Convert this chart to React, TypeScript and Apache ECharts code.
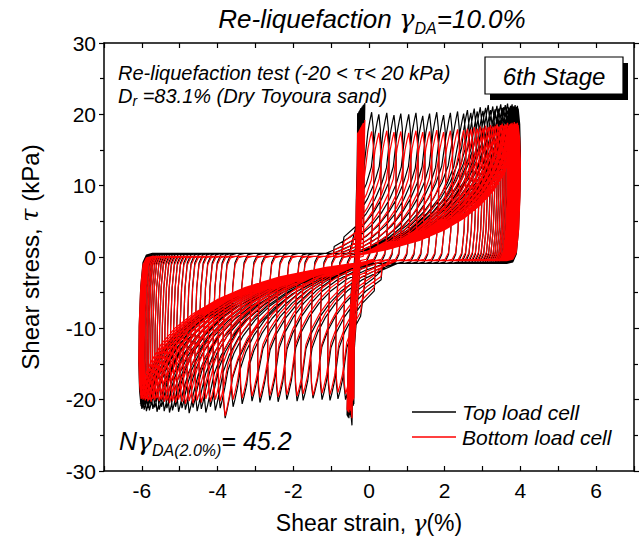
import React, { useEffect, useRef } from "react";
import * as echarts from "echarts";

// ---------- data ----------
const strainLabels = [-6, -4, -2, 0, 2, 4, 6];
const stressTicks = [-30, -20, -10, 0, 10, 20, 30];

// pre-liquefaction small loops: strain at each peak / trough, and the stresses there
const preStart = -0.35;
const preRight = [-0.30, -0.27, -0.29, -0.25, -0.27, -0.24, -0.26, -0.22, -0.25, -0.21, -0.24, -0.20, -0.23, -0.19, -0.22, -0.18, -0.21, -0.17, -0.20, -0.16, -0.19, -0.15, -0.18, -0.14, -0.17, -0.13, -0.16, -0.12, -0.15, -0.11];
const preLeft = [-0.40, -0.43, -0.41, -0.45, -0.42, -0.47, -0.44, -0.49, -0.46, -0.51, -0.47, -0.53, -0.49, -0.55, -0.50, -0.56, -0.51, -0.57, -0.52, -0.58, -0.53, -0.57, -0.54, -0.56, -0.52, -0.55, -0.50, -0.53, -0.48, -0.45];
const prePeakTop = [20.1, 20.4, 20.2, 20.5, 20.3, 20.6, 20.4, 20.7, 20.5, 20.8, 20.6, 20.9, 20.7, 21.0, 20.8, 21.0, 20.9, 21.1, 20.9, 21.2, 21.0, 21.2, 21.1, 21.3, 21.1, 21.4, 21.2, 21.4, 21.3, 21.6];
const preTroughTop = [-20.6, -20.9, -20.7, -21.1, -20.9, -21.3, -21.0, -21.4, -21.2, -21.6, -21.3, -21.7, -21.4, -21.8, -21.5, -22.0, -21.6, -22.1, -21.8, -22.2, -21.9, -22.3, -22.0, -22.4, -22.1, -22.5, -22.2, -22.6, -22.4, -23.6];
const prePeakBottom = [17.4, 17.6, 17.5, 17.7, 17.6, 17.8, 17.7, 17.9, 17.8, 18.0, 17.9, 18.1, 18.0, 18.2, 18.1, 18.3, 18.2, 18.4, 18.3, 18.5, 18.4, 18.6, 18.5, 18.7, 18.6, 18.8, 18.7, 18.9, 18.8, 19.2];
const preTroughBottom = [-19.8, -20.1, -19.9, -20.3, -20.1, -20.5, -20.2, -20.6, -20.4, -20.8, -20.5, -20.9, -20.6, -21.0, -20.8, -21.2, -20.9, -21.3, -21.0, -21.4, -21.1, -21.5, -21.2, -21.6, -21.3, -21.7, -21.4, -21.8, -21.6, -22.6];
// shape of a small loop branch: position across the loop vs share of the stress change
const smallPos = [0.1, 0.28, 0.5, 0.75, 0.92, 1];
const smallFrac = [0.22, 0.4, 0.5, 0.64, 0.82, 1];

// large loops after liquefaction: strain at each positive peak and each negative trough
const peakStrain = [0.07, 0.26, 0.47, 0.66, 0.84, 1.05, 1.24, 1.42, 1.6, 1.79, 1.97, 2.15, 2.34, 2.5,
  2.6, 2.69, 2.78, 2.86, 2.94, 3.01, 3.08, 3.15, 3.21, 3.27, 3.33, 3.38, 3.43, 3.48, 3.52, 3.56, 3.6, 3.63, 3.66, 3.69, 3.72, 3.74, 3.76, 3.78, 3.8, 3.82, 3.84, 3.86, 3.88, 3.9, 3.92, 3.94];
const troughStrain = [-0.62, -0.82, -1.03, -1.24, -1.48, -1.74, -1.9, -2.17, -2.4, -2.62, -2.88, -3.09, -3.35, -3.59,
  -3.8, -3.93, -4.06, -4.19, -4.31, -4.43, -4.54, -4.65, -4.75, -4.85, -4.94, -5.03, -5.11, -5.19, -5.27, -5.34, -5.41, -5.48, -5.54, -5.6, -5.66, -5.71, -5.76, -5.8, -5.84, -5.88, -5.91, -5.94, -5.97, -6.0, -6.02, -6.04];
// stress at those peaks / troughs, top load cell (black) and bottom load cell (red)
const topPeak = [20.3, 20.0, 20.2, 19.9, 20.1, 20.0, 20.2, 19.8, 20.1, 20.3, 19.9, 20.2, 20.4, 20.1,
  20.6, 20.2, 20.8, 20.4, 21.0, 20.5, 20.9, 21.3, 20.6, 21.1, 20.7, 21.2, 20.8, 21.4, 20.9, 21.0, 21.3, 20.7, 21.5, 21.0, 20.8, 21.2, 20.9, 21.4, 20.6, 21.1, 20.9, 21.3, 20.7, 21.0, 21.2, 20.8];
const topTrough = [-20.0, -19.9, -20.1, -20.0, -19.8, -20.1, -20.2, -20.0, -20.3, -20.1, -20.4, -20.2, -20.6, -21.0,
  -22.6, -21.2, -21.5, -21.0, -21.8, -21.3, -21.6, -21.1, -21.9, -21.4, -21.2, -21.7, -21.0, -21.5, -21.8, -21.2, -21.6, -21.0, -21.4, -21.7, -21.1, -21.3, -20.8, -21.5, -21.2, -21.6, -21.0, -21.4, -21.1, -21.3, -20.9, -20.6];
const bottomPeak = [17.6, 17.4, 17.7, 17.5, 17.6, 17.4, 17.7, 17.5, 17.6, 17.8, 17.5, 17.7, 17.9, 17.8,
  18.0, 17.9, 18.2, 18.0, 18.3, 18.1, 18.4, 18.2, 18.5, 18.3, 18.4, 18.6, 18.3, 18.5, 18.7, 18.4, 18.6, 18.5, 18.8, 18.4, 18.6, 18.7, 18.5, 18.8, 18.4, 18.6, 18.9, 18.5, 18.7, 18.6, 18.8, 18.5];
const bottomTrough = [-19.2, -19.0, -19.3, -19.1, -19.4, -19.2, -19.5, -19.3, -19.6, -19.4, -19.7, -19.5, -19.8, -20.0,
  -22.3, -20.2, -20.0, -20.3, -19.9, -20.4, -20.1, -20.5, -20.2, -20.6, -20.3, -20.0, -20.4, -20.2, -20.5, -20.1, -20.3, -20.0, -20.2, -19.8, -20.1, -19.9, -20.3, -20.0, -20.2, -19.9, -20.1, -19.8, -20.0, -19.7, -19.9, -19.4];
// near-zero stress plateaus [loading side, unloading side]
const topPlateau = [0.5, -0.9];
const bottomPlateau = [0.1, -0.5];
// branch shape: position along the branch (0 = leaves the plateau, 1 = tip) vs share of stress
const branchPos = [0, 0.2, 0.4, 0.55, 0.67, 0.77, 0.85, 0.91, 0.95];
const branchShare = [0, 0.05, 0.12, 0.2, 0.29, 0.39, 0.5, 0.62, 0.74];
// last stretch before a tip: strain distance from the tip vs share of stress
const nearTipGap = [0.1, 0.04, 0];
const nearTipShare = [0.86, 0.95, 1];
// strain where the branches leave the plateau at the latest [loading, unloading], and their shortest span
const fanOrigin = [-0.4, 0.1];
const fanMinSpan = [2.2, 2.6];
// reversal after a tip: strain offset (still moving on, then coming back) vs share of the stress change
const tipStrain = [0.04, 0.06, 0.05, 0.01, -0.05, -0.14, -0.3];
const tipShare = [0.1, 0.28, 0.52, 0.78, 0.94, 0.99, 1];

function buildLoops(preP: number[], preT: number[], peaks: number[], troughs: number[], plat: number[]) {
  const pts: number[][] = [[preStart, 0]];
  let xPrev = preStart;
  let yPrev = 0;
  for (let i = 0; i < preRight.length; i++) {
    const xR = preRight[i];
    const xL = preLeft[i];
    for (let k = 0; k < smallPos.length; k++) {
      pts.push([xPrev + smallPos[k] * (xR - xPrev), yPrev + (preP[i] - yPrev) * smallFrac[k]]);
    }
    for (let k = 0; k < smallPos.length; k++) {
      pts.push([xR + smallPos[k] * (xL - xR), preP[i] + (preT[i] - preP[i]) * smallFrac[k]]);
    }
    xPrev = xL;
    yPrev = preT[i];
  }
  const back = -tipStrain[tipStrain.length - 1];
  const tipReach = nearTipGap[0] + 0.05;
  for (let i = 0; i < peakStrain.length; i++) {
    const xR = peakStrain[i];
    const xL = troughStrain[i];
    // loading: reversal at trough, plateau, rise to the peak
    for (let k = 0; k < tipStrain.length; k++) {
      pts.push([xPrev - tipStrain[k], yPrev + (plat[0] - yPrev) * tipShare[k]]);
    }
    const x0 = Math.min(fanOrigin[0], xR - fanMinSpan[0]);
    const joinUp = xPrev + back;
    for (let k = 0; k < branchPos.length; k++) {
      const x = x0 + branchPos[k] * (xR - x0);
      if (x > joinUp && xR - x > tipReach) pts.push([x, plat[0] + (peaks[i] - plat[0]) * branchShare[k]]);
    }
    for (let k = 0; k < nearTipGap.length; k++) {
      pts.push([xR - nearTipGap[k], plat[0] + (peaks[i] - plat[0]) * nearTipShare[k]]);
    }
    // unloading: reversal at peak, plateau, fall to the trough
    for (let k = 0; k < tipStrain.length; k++) {
      pts.push([xR + tipStrain[k], peaks[i] + (plat[1] - peaks[i]) * tipShare[k]]);
    }
    const x1 = Math.max(fanOrigin[1], xL + fanMinSpan[1]);
    const joinDown = xR - back;
    for (let k = 0; k < branchPos.length; k++) {
      const x = x1 - branchPos[k] * (x1 - xL);
      if (x < joinDown && x - xL > tipReach + 0.02) pts.push([x, plat[1] + (troughs[i] - plat[1]) * branchShare[k]]);
    }
    for (let k = 0; k < nearTipGap.length; k++) {
      pts.push([xL + nearTipGap[k] * 1.2, plat[1] + (troughs[i] - plat[1]) * nearTipShare[k]]);
    }
    xPrev = xL;
    yPrev = troughs[i];
  }
  return pts;
}

const SANS = "'Liberation Sans', Arial, Helvetica, sans-serif";
const GREEK = "'DejaVu Serif', 'Liberation Serif', serif";

function richText(x: number, y: number, text: string, rich: any, align = "left", extra: any = {}) {
  return {
    type: "text",
    x,
    y,
    ...extra,
    silent: true,
    style: {
      text,
      rich,
      align,
      textAlign: align,
      verticalAlign: "middle",
      textVerticalAlign: "middle",
      fill: "#000",
    },
  };
}

export default function App() {
  const ref = useRef<HTMLDivElement>(null);
  useEffect(() => {
    if (!ref.current) return;
    const chart = echarts.init(ref.current, undefined, { renderer: "svg" });
    const topPts = buildLoops(prePeakTop, preTroughTop, topPeak, topTrough, topPlateau);
    const botPts = buildLoops(prePeakBottom, preTroughBottom, bottomPeak, bottomTrough, bottomPlateau);

    const axisLine = { show: true, onZero: false, lineStyle: { color: "#000", width: 1.5 } };
    const tickStyle = { color: "#000", width: 1.2 };
    const labelStyle = { color: "#000", fontSize: 21, fontFamily: SANS };

    const base = (sz: number, it = true) => ({
      fontSize: sz,
      fontFamily: SANS,
      fontStyle: it ? "italic" : "normal",
      fill: "#000",
      color: "#000",
    });
    const greek = (sz: number) => ({ fontSize: sz, fontFamily: GREEK, fontStyle: "italic", fill: "#000", color: "#000" });

    chart.setOption({
      animation: false,
      grid: { left: 104, right: 8, top: 43, bottom: 78, containLabel: false },
      xAxis: [
        {
          type: "value",
          min: -7,
          max: 7,
          interval: 1,
          position: "bottom",
          axisLine,
          axisTick: { show: true, inside: true, length: 5, lineStyle: tickStyle },
          axisLabel: {
            ...labelStyle,
            margin: 9,
            formatter: (v: number) => (strainLabels.includes(v) ? String(v) : ""),
          },
          splitLine: { show: false },
        },
        {
          type: "value",
          min: -7,
          max: 7,
          interval: 1,
          position: "top",
          axisLine,
          axisTick: { show: true, inside: true, length: 5, lineStyle: tickStyle },
          axisLabel: { show: false },
          splitLine: { show: false },
        },
      ],
      yAxis: [
        {
          type: "value",
          min: stressTicks[0],
          max: stressTicks[stressTicks.length - 1],
          interval: 10,
          position: "left",
          axisLine,
          axisTick: { show: true, inside: false, length: 5, lineStyle: tickStyle },
          minorTick: { show: true, splitNumber: 2, length: 4, lineStyle: tickStyle },
          axisLabel: { ...labelStyle, margin: 8 },
          splitLine: { show: false },
        },
        {
          type: "value",
          min: stressTicks[0],
          max: stressTicks[stressTicks.length - 1],
          interval: 10,
          position: "right",
          axisLine,
          axisTick: { show: true, inside: false, length: 5, lineStyle: tickStyle },
          minorTick: { show: true, splitNumber: 2, length: 4, lineStyle: tickStyle },
          axisLabel: { show: false },
          splitLine: { show: false },
        },
      ],
      series: [
        {
          name: "Top load cell",
          type: "line",
          data: topPts,
          showSymbol: false,
          symbol: "none",
          silent: true,
          lineStyle: { color: "#000000", width: 1.2 },
          z: 2,
        },
        {
          name: "Bottom load cell",
          type: "line",
          data: botPts,
          showSymbol: false,
          symbol: "none",
          silent: true,
          lineStyle: { color: "#ff0000", width: 1.2 },
          z: 3,
        },
      ],
      graphic: [
        richText(372, 19, "{a|Re-liquefaction }{g|γ}{s|DA}{a|=10.0%}", {
          a: { ...base(26), lineHeight: 34 },
          g: { ...greek(26), lineHeight: 34 },
          s: { ...base(16), lineHeight: 16, verticalAlign: "bottom" },
        }, "center"),
        richText(118, 73, "{a|Re-liquefaction test (-20 < }{g|τ}{a|< 20 kPa)}", {
          a: { ...base(20) },
          g: { ...greek(20) },
        }),
        richText(118, 96, "{a|D}{s|r}{a| =83.1% (Dry Toyoura sand)}", {
          a: { ...base(20), lineHeight: 24 },
          s: { ...base(14), lineHeight: 15, verticalAlign: "bottom" },
        }),
        // 6th Stage box with shadow
        { type: "rect", silent: true, shape: { x: 490, y: 63, width: 138, height: 37 }, style: { fill: "#000" } },
        { type: "rect", silent: true, shape: { x: 485, y: 57, width: 138, height: 37 }, style: { fill: "#fff", stroke: "#000", lineWidth: 1.2 } },
        richText(554, 76, "{a|6th Stage}", { a: { ...base(24) } }, "center"),
        // legend
        { type: "line", silent: true, shape: { x1: 412, y1: 412, x2: 456, y2: 412 }, style: { stroke: "#000", lineWidth: 1.5 } },
        richText(462, 412, "{a|Top load cell}", { a: { ...base(21) } }),
        { type: "line", silent: true, shape: { x1: 412, y1: 437, x2: 456, y2: 437 }, style: { stroke: "#ff0000", lineWidth: 1.5 } },
        richText(462, 437, "{a|Bottom load cell}", { a: { ...base(21) } }),
        // N value
        richText(119, 441, "{a|N}{g|γ}{s|DA(2.0%)}{a|= 45.2}", {
          a: { ...base(25), lineHeight: 34 },
          g: { ...greek(25), lineHeight: 34 },
          s: { ...base(16), lineHeight: 16, verticalAlign: "bottom" },
        }),
        // axis names
        richText(369, 523, "{a|Shear strain, }{g|γ}{a|(%)}", {
          a: { ...base(23, false) },
          g: { ...greek(23) },
        }, "center"),
        richText(30, 257, "{a|Shear stress, }{g|τ}{a| (kPa)}", {
          a: { ...base(24, false) },
          g: { ...greek(24) },
        }, "center", { rotation: Math.PI / 2 }),
      ],
    });
    return () => chart.dispose();
  }, []);
  return (
    <div
      ref={ref}
      style={{ position: "fixed", left: 0, top: 0, width: 642, height: 549, background: "#fff" }}
    />
  );
}
